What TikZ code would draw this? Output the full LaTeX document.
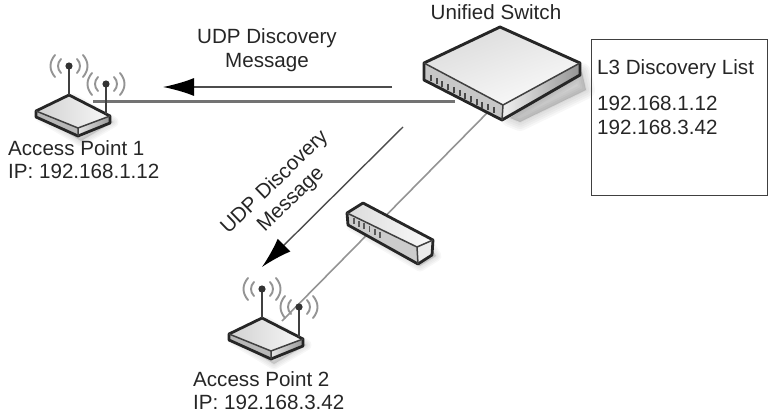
\documentclass[tikz,border=0pt]{standalone}
\usepackage{fontspec}
\setmainfont{Liberation Sans}
\usetikzlibrary{arrows.meta}
\tikzset{
  x=1pt,y=-1pt,
  lbl/.style={font=\fontsize{20.6}{23.6}\selectfont,text=black!85,inner sep=0pt,align=left},
  outline/.style={draw=black!85,line width=2.8pt,line join=round},
  ridge/.style={draw=black!75,line width=1.5pt,line join=round},
  mast/.style={draw=black!75,line width=2.2pt},
  wave/.style={draw=black!42,line width=1.9pt,line cap=round},
  softshadow/.style={fill=black,opacity=0.035,draw=black,draw opacity=0.03,line width=#1,line join=round},
  msgarrow/.style={draw=black!70,line width=1.4pt,-{Latex[length=31pt,width=18pt,black]}},
  uplink/.style={draw=black!55,line width=3pt},
  downlink/.style={draw=black!42,line width=1.6pt},
  pics/radiowaves/.style={code={
    \draw[wave] (-8,-7) .. controls (-12,-3) and (-12,3) .. (-8,7);
    \draw[wave] (8,-7) .. controls (12,-3) and (12,3) .. (8,7);
    \draw[wave] (-14,-11) .. controls (-20,-4) and (-20,4) .. (-14,11);
    \draw[wave] (14,-11) .. controls (20,-4) and (20,4) .. (14,11);
    \fill[black!80] (0,0) circle (3.6);
  }},
  pics/accesspoint/.style={code={
    % casing, drawn around its top corner
    \foreach \w in {2,5,8,11}
      \path[softshadow=\w pt] (-28,22) -- (4,4) -- (44,27) -- (12,46) -- cycle;
    \shade[left color=black!18,right color=black!3] (-33,16) -- (0,0) -- (41,21) -- (9,33) -- cycle;
    \fill[black!28] (-33,16) -- (9,33) -- (9,41) -- (-33,22) -- cycle;
    \shade[left color=black!10,right color=black!40] (9,33) -- (41,21) -- (41,28) -- (9,41) -- cycle;
    \draw[outline] (0,0) -- (41,21) -- (41,28) -- (9,41) -- (-33,22) -- (-33,16) -- cycle;
    \draw[ridge] (-33,16) -- (9,33) -- (41,21) (9,33) -- (9,41);
    \draw[mast] (0,0) -- (0,-29);
    \draw[mast] (37,19) -- (37,-11);
    \pic at (0,-29) {radiowaves};
    \pic at (37,-11) {radiowaves};
  }},
}
\begin{document}
\begin{tikzpicture}
\useasboundingbox (0,0) rectangle (773,414);

\coordinate (apOnePort) at (93,102);
\coordinate (apTwoPort) at (282,321);
\coordinate (switchPort) at (455,102);
\coordinate (switchDown) at (490,110);
\coordinate (msgOneFrom) at (392,87);
\coordinate (msgOneTo) at (163,87);
\coordinate (msgTwoFrom) at (403,127);
\coordinate (msgTwoTo) at (262,267);

% links behind the devices
\draw[uplink] (switchPort) -- (apOnePort);
\draw[downlink] (switchDown) -- (apTwoPort);

% access points
\pic at (69,95) {accesspoint};
\pic at (262,318) {accesspoint};

% main switch
\foreach \w in {2,6,10,14,18}
  \path[softshadow=\w pt] (510,118) -- (582,72) -- (586,90) -- (520,122) -- cycle;
\shade[left color=black!14,right color=black!2,shading angle=20] (424,63) -- (500,27) -- (580,63) -- (503,105) -- cycle;
\fill[black!22] (424,63) -- (503,105) -- (502,120) -- (424,80) -- cycle;
\shade[left color=black!6,right color=black!42] (503,105) -- (580,63) -- (580,75) -- (502,120) -- cycle;
\draw[outline,line width=2.9pt] (500,27) -- (580,63) -- (580,75) -- (502,120) -- (424,80) -- (424,63) -- cycle;
\draw[ridge] (424,63) -- (503,105) -- (580,63) (503,105) -- (502,120);
\foreach \k in {0,...,11}
  \fill[black!72] ({430+\k*5.7},{75+\k*2.95}) rectangle ++(2,6);

% small intermediate switch
\foreach \w in {2,5,8,11}
  \path[softshadow=\w pt] (352,226) -- (420,266) -- (436,256) -- (430,246) -- cycle;
\shade[left color=black!14,right color=black!2] (347,213) -- (363,203) -- (433,240) -- (417,247) -- cycle;
\fill[black!20] (347,213) -- (417,247) -- (418,264) -- (348,225) -- cycle;
\fill[black!8] (417,247) -- (433,240) -- (432,255) -- (418,264) -- cycle;
\draw[outline] (347,213) -- (363,203) -- (433,240) -- (432,255) -- (418,264) -- (348,225) -- cycle;
\draw[ridge] (347,213) -- (417,247) -- (433,240) (417,247) -- (418,264);
\foreach \k in {0,...,5}
  \fill[black!65] ({353+\k*5.2},{218+\k*2.7}) rectangle ++(1.8,6);

% discovery messages
\draw[msgarrow] (msgOneFrom) -- (msgOneTo);
\draw[msgarrow] (msgTwoFrom) -- (msgTwoTo);

% labels
\node[lbl] (switchLabel) at (496,12) {Unified Switch};
\node[lbl,align=center] (msgOneLabel) at (267,50) {UDP Discovery\\Message};
\node[lbl,align=center,rotate=44] (msgTwoLabel) at (283,191) {UDP Discovery\\Message};
\node[lbl,anchor=north west] (apOneLabel) at (8,140) {Access Point 1\\IP: 192.168.1.12};
\node[lbl,anchor=north west] (apTwoLabel) at (193,371) {Access Point 2\\IP: 192.168.3.42};

% discovery list panel
\node[draw=black!75,line width=1.2pt,minimum width=176pt,minimum height=156pt,anchor=north west,inner sep=0pt] (listBox) at (591,39) {};
\node[lbl,anchor=north west] (listTitle) at (597,59) {L3 Discovery List};
\node[lbl,anchor=north west] (listEntries) at (597,96) {192.168.1.12\\192.168.3.42};
\end{tikzpicture}
\end{document}
